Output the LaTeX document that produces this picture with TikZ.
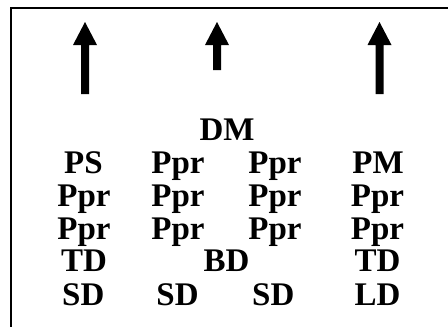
\documentclass[tikz,border=0pt]{standalone}
\usepackage{fontspec}
\setmainfont{Liberation Serif}
\begin{document}
\begin{tikzpicture}[x=1pt,y=-1pt,
  lbl/.style={anchor=base,inner sep=0pt,font=\fontsize{33}{33}\selectfont\bfseries},
  arrowshape/.style={fill=black}]
\useasboundingbox (0,0) rectangle (448,327);
% frame (left and top sides only)
\draw[line width=2pt] (11,327) -- (11,8) -- (448,8);
% up arrows
\newcommand{\uparr}[2]{%
  \fill[arrowshape] (#1-4,#2) -- (#1-4,45) -- (#1-12,45) -- (#1,22) -- (#1+12,45) -- (#1+4,45) -- (#1+4,#2) -- cycle;}
\uparr{85}{94}
\uparr{217}{70}
\uparr{379.5}{94}
% text grid
\node[lbl] (dm) at (227,140) {DM};
\node[lbl] (r1c1) at (83.5,173) {PS};
\node[lbl] (r1c2) at (178,173) {Ppr};
\node[lbl] (r1c3) at (275,173) {Ppr};
\node[lbl] (r1c4) at (378,173) {PM};
\node[lbl] (r2c1) at (84,206) {Ppr};
\node[lbl] (r2c2) at (178,206) {Ppr};
\node[lbl] (r2c3) at (275,206) {Ppr};
\node[lbl] (r2c4) at (377.5,206) {Ppr};
\node[lbl] (r3c1) at (84,239) {Ppr};
\node[lbl] (r3c2) at (178,239) {Ppr};
\node[lbl] (r3c3) at (275,239) {Ppr};
\node[lbl] (r3c4) at (377.5,239) {Ppr};
\node[lbl] (r4c1) at (84,271) {TD};
\node[lbl] (r4c2) at (226.5,271) {BD};
\node[lbl] (r4c4) at (377.5,271) {TD};
\node[lbl] (r5c1) at (83.3,305) {SD};
\node[lbl] (r5c2) at (177.5,305) {SD};
\node[lbl] (r5c3) at (273.3,305) {SD};
\node[lbl] (r5c4) at (377.5,305) {LD};
\end{tikzpicture}
\end{document}
